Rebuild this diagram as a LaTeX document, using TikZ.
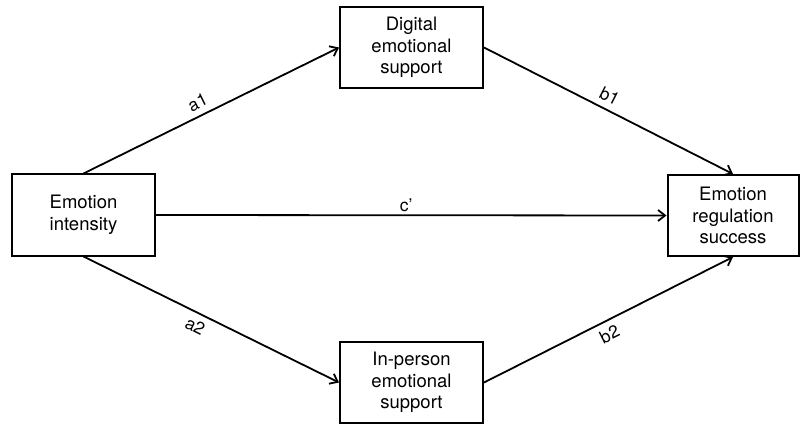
\documentclass[tikz,border=0pt]{standalone}
\usepackage{fontspec}
\setmainfont{TeX Gyre Heros}
\usetikzlibrary{arrows.meta,positioning}

\begin{document}
\begin{tikzpicture}[x=1pt, y=-1pt, every node/.style={font=\fontsize{18.5}{21.5}\selectfont},
    box/.style={draw, line width=2pt, align=center, minimum width=143pt, minimum height=81pt, inner sep=0pt},
    path/.style={-{Straight Barb[length=7pt,width=11pt]}, line width=1.8pt},
    lbl/.style={sloped, inner sep=6pt, font=\fontsize{17.5}{20}\selectfont}]
    \useasboundingbox (0,0) rectangle (801,425);
    % Boxes
    \node[box] (intensity) at (83.5,215) {Emotion\\intensity};
    \node[box] (digital) at (411.5,47.5) {Digital\\emotional\\support};
    \node[box] (inperson) at (411.5,382.5) {In-person\\emotional\\support};
    \node[box, minimum width=131pt] (regulation) at (733,215.5) {Emotion\\regulation\\success};
    % Paths
    \draw[path] (intensity.north) -- node[lbl, pos=0.47, above] {a1} (digital.west);
    \draw[path] (digital.east) -- node[lbl, pos=0.48, above] {b1} (regulation.north);
    \draw[path] (intensity.east) -- node[lbl, pos=0.49, above, inner sep=3pt] {c'} (regulation.west);
    \draw[path] (intensity.south) -- node[lbl, pos=0.46, below] {a2} (inperson.west);
    \draw[path] (inperson.east) -- node[lbl, pos=0.48, below] {b2} (regulation.south);
\end{tikzpicture}
\end{document}
